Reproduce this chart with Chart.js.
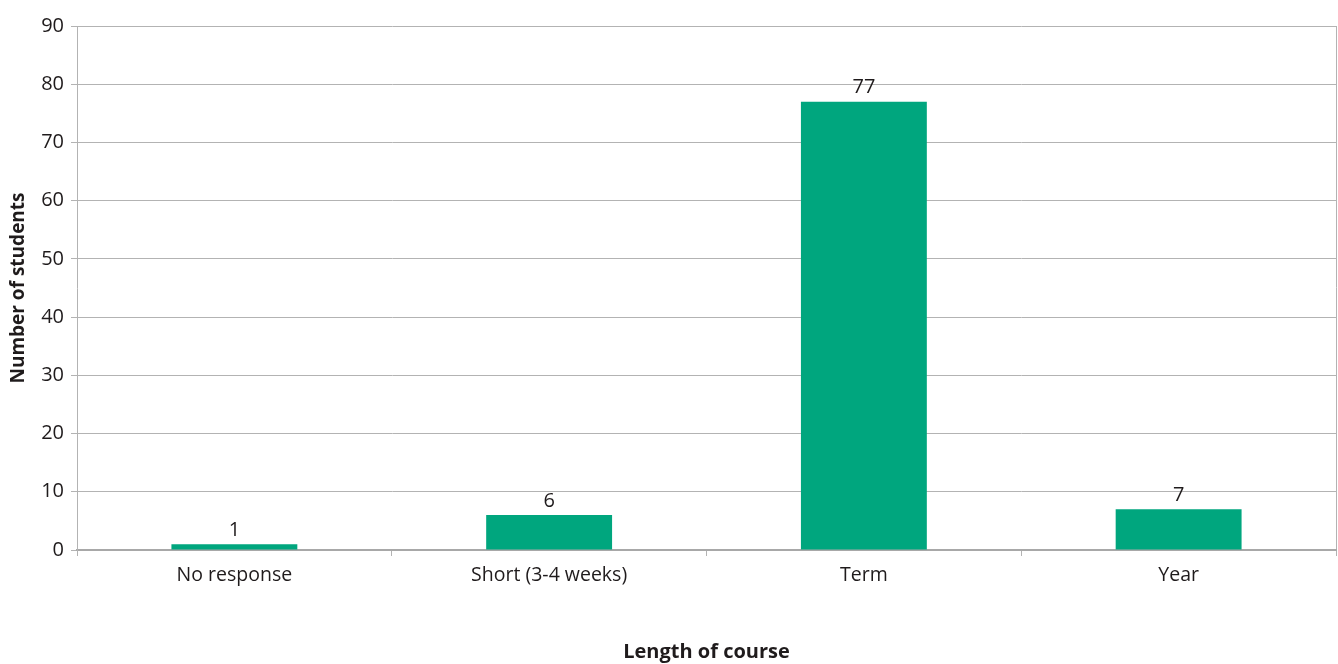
<!DOCTYPE html>
<html>
<head>
<meta charset="utf-8">
<script src="https://cdn.jsdelivr.net/npm/chart.js@4/dist/chart.umd.min.js"></script>
<style>
  html, body { margin: 0; padding: 0; background: #fff; }
  #wrap { width: 1338px; height: 664px; }
</style>
</head>
<body>
<div id="wrap"><canvas id="course-chart"></canvas></div>
<script>
// Chart data
const categories = ['No response', 'Short (3-4 weeks)', 'Term', 'Year'];
const students = [1, 6, 77, 7];
const yTicks = [0, 10, 20, 30, 40, 50, 60, 70, 80, 90];

const textColor = '#1f1b1c';
const gridColor = '#b3b3b3';
const fontFamily = '"Open Sans", "Noto Sans", sans-serif';

// Draw value labels above each bar
const valueLabels = {
    id: 'valueLabels',
    afterDatasetsDraw(chart) {
        const ctx = chart.ctx;
        const meta = chart.getDatasetMeta(0);
        ctx.save();
        ctx.fillStyle = textColor;
        ctx.font = '20px ' + fontFamily;
        ctx.textAlign = 'center';
        ctx.textBaseline = 'middle';
        meta.data.forEach((bar, i) => {
            ctx.fillText(String(students[i]), bar.x, bar.y - 14);
        });
        ctx.restore();
    }
};

const ctx = document.getElementById('course-chart').getContext('2d');
new Chart(ctx, {
    type: 'bar',
    data: {
        labels: categories,
        datasets: [{
            data: students,
            backgroundColor: '#00a67e',
            borderWidth: 0,
            categoryPercentage: 1,
            barPercentage: 0.4,
        }],
    },
    options: {
        responsive: true,
        maintainAspectRatio: false,
        animation: false,
        layout: { padding: { top: 26, right: 2, bottom: 0, left: 0 } },
        plugins: {
            legend: { display: false },
            tooltip: { enabled: false },
        },
        scales: {
            x: {
                afterFit: scale => { scale.height = 114; },
                grid: {
                    offset: true,
                    color: c => (c.index === undefined ? gridColor : 'rgba(0,0,0,0)'),
                    tickColor: gridColor,
                    tickLength: 6,
                    lineWidth: 1,
                },
                border: { color: '#a8a8a8', width: 2 },
                ticks: {
                    color: textColor,
                    padding: 8,
                    font: { family: fontFamily, size: 19.5 },
                },
                title: {
                    display: true,
                    text: 'Length of course',
                    color: textColor,
                    font: { family: fontFamily, size: 20, weight: 'bold' },
                    padding: { top: 0, bottom: 0 },
                },
            },
            y: {
                min: 0,
                max: 90,
                afterFit: scale => { scale.width = 77; },
                afterBuildTicks: scale => {
                    scale.ticks = yTicks.map(v => ({ value: v }));
                },
                grid: {
                    color: gridColor,
                    tickColor: gridColor,
                    tickLength: 6,
                    lineWidth: 1,
                },
                border: { color: gridColor, width: 1 },
                ticks: {
                    color: textColor,
                    padding: 7,
                    font: { family: fontFamily, size: 20 },
                },
                title: {
                    display: true,
                    text: 'Number of students',
                    color: textColor,
                    font: { family: fontFamily, size: 19, weight: 'bold' },
                    padding: { top: 7, bottom: 0 },
                },
            },
        },
    },
    plugins: [valueLabels],
});
</script>
</body>
</html>
